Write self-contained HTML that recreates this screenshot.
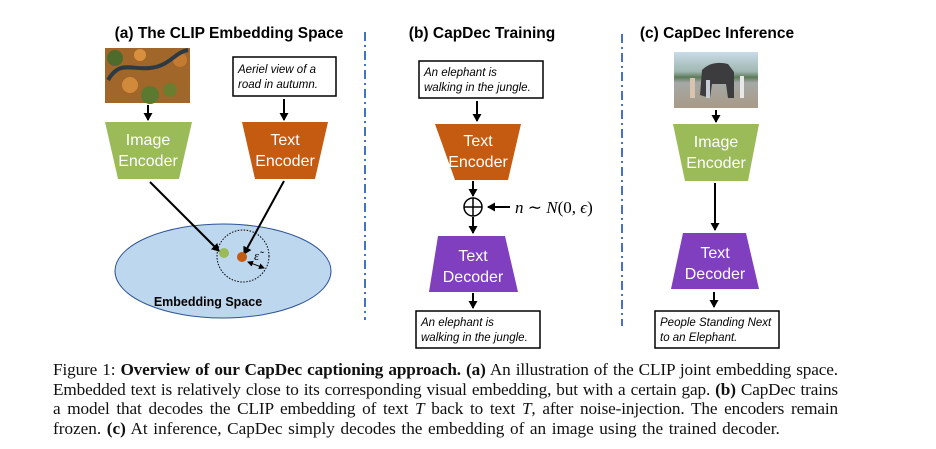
<!DOCTYPE html>
<html><head><meta charset="utf-8"><style>
html,body{margin:0;padding:0;background:#fff;width:936px;height:449px;overflow:hidden;position:relative}
svg{position:absolute;left:0;top:0}
.cap{position:absolute;left:53px;width:785px;font-family:"Liberation Serif",serif;font-size:17.2px;letter-spacing:-0.12px;word-spacing:-1px;line-height:19.5px;color:#111;white-space:nowrap}
.j{text-align:justify;text-align-last:justify}
</style></head><body>
<svg width="936" height="449" viewBox="0 0 936 449" xmlns="http://www.w3.org/2000/svg" font-family="Liberation Sans, sans-serif">
<defs>
<marker id="ah" markerWidth="9" markerHeight="9" refX="7" refY="4.5" orient="auto" markerUnits="userSpaceOnUse"><path d="M0,0 L8,4.5 L0,9 z" fill="#000"/></marker>
<marker id="ah2" markerWidth="6" markerHeight="6" refX="5" refY="3" orient="auto-start-reverse" markerUnits="userSpaceOnUse"><path d="M0,0 L6,3 L0,6 z" fill="#000"/></marker>
<linearGradient id="sky" x1="0" y1="0" x2="0" y2="1"><stop offset="0" stop-color="#c9dbe8"/><stop offset="0.35" stop-color="#9fb7b0"/><stop offset="0.45" stop-color="#5d7a5a"/><stop offset="0.55" stop-color="#a5a9a6"/><stop offset="1" stop-color="#a89a86"/></linearGradient>
</defs>
<g font-weight="bold" font-size="15.5" fill="#000" text-anchor="middle">
<text x="229" y="38">(a) The CLIP Embedding Space</text>
<text x="482" y="38">(b) CapDec Training</text>
<text x="717" y="38">(c) CapDec Inference</text>
</g>
<line x1="365" y1="32" x2="365" y2="320" stroke="#4472C4" stroke-width="2" stroke-dasharray="9,4,2,4"/>
<line x1="622" y1="34" x2="622" y2="326" stroke="#4472C4" stroke-width="2" stroke-dasharray="9,4,2,4"/>

<rect x="105" y="48" width="85" height="55" fill="#8a6a2a"/>
<rect x="105" y="48" width="85" height="55" fill="#b5612a" opacity="0.5"/>
<circle cx="115" cy="58" r="8" fill="#4d6b2a"/><circle cx="150" cy="95" r="9" fill="#5a7a30"/><circle cx="180" cy="60" r="7" fill="#c47a30"/><circle cx="130" cy="85" r="8" fill="#d08a3a"/><circle cx="170" cy="90" r="7" fill="#6b7d2e"/><circle cx="140" cy="55" r="6" fill="#d9903e"/>
<path d="M108,80 C120,60 130,70 150,68 C170,66 175,52 188,50" stroke="#2c3a44" stroke-width="4" fill="none"/>
<line x1="148" y1="105" x2="148" y2="120" stroke="#000" stroke-width="2" marker-end="url(#ah)"/>
<polygon points="105,122 192,122 179,179 118,179" fill="#9BBB59"/>
<text x="148" y="145" fill="#fff" font-size="16" text-anchor="middle">Image</text>
<text x="148" y="166" fill="#fff" font-size="16" text-anchor="middle">Encoder</text>

<rect x="233" y="57" width="103" height="39" fill="#fff" stroke="#000" stroke-width="1.5"/>
<text x="238" y="73" font-size="11.5" font-style="italic">Aeriel view of a</text>
<text x="238" y="88" font-size="11.5" font-style="italic">road in autumn.</text>
<line x1="284" y1="99" x2="284" y2="120" stroke="#000" stroke-width="2" marker-end="url(#ah)"/>
<polygon points="242,122 328,122 315,179 255,179" fill="#C55A11"/>
<text x="285" y="145" fill="#fff" font-size="16" text-anchor="middle">Text</text>
<text x="285" y="166" fill="#fff" font-size="16" text-anchor="middle">Encoder</text>

<ellipse cx="223" cy="271" rx="108" ry="47" fill="#BDD7EE" stroke="#2F5597" stroke-width="1"/>
<circle cx="243" cy="256" r="26" fill="none" stroke="#000" stroke-width="1" stroke-dasharray="1.5,1.5"/>
<line x1="150" y1="182" x2="219" y2="251" stroke="#000" stroke-width="2" marker-end="url(#ah)"/>
<line x1="284" y1="181" x2="244" y2="254" stroke="#000" stroke-width="2" marker-end="url(#ah)"/>
<circle cx="224" cy="253" r="5" fill="#9BBB59"/>
<circle cx="242" cy="257" r="5" fill="#C55A11"/>
<line x1="248" y1="262" x2="264" y2="268" stroke="#000" stroke-width="1" marker-start="url(#ah2)" marker-end="url(#ah2)"/>
<text x="254" y="260" font-size="13" font-style="italic" font-family="Liberation Serif, serif">ε̃</text>
<text x="208" y="306" font-size="12.5" font-weight="bold" text-anchor="middle">Embedding Space</text>

<rect x="419" y="61" width="124" height="37" fill="#fff" stroke="#000" stroke-width="1.5"/>
<text x="424" y="76" font-size="11.5" font-style="italic">An elephant is</text>
<text x="424" y="91" font-size="11.5" font-style="italic">walking in the jungle.</text>
<line x1="477" y1="101" x2="477" y2="121" stroke="#000" stroke-width="2" marker-end="url(#ah)"/>
<polygon points="435,124 521,124 508,180 455,180" fill="#C55A11"/>
<text x="478" y="146" fill="#fff" font-size="16" text-anchor="middle">Text</text>
<text x="478" y="167" fill="#fff" font-size="16" text-anchor="middle">Encoder</text>
<line x1="473" y1="181" x2="473" y2="196" stroke="#000" stroke-width="2" marker-end="url(#ah)"/>
<circle cx="473" cy="207" r="9" fill="none" stroke="#000" stroke-width="1.5"/>
<line x1="464" y1="207" x2="482" y2="207" stroke="#000" stroke-width="1.5"/>
<line x1="473" y1="198" x2="473" y2="216" stroke="#000" stroke-width="1.5"/>
<line x1="510" y1="207" x2="488" y2="207" stroke="#000" stroke-width="2" marker-end="url(#ah)"/>
<text x="515" y="213" font-size="17" font-family="Liberation Serif, serif"><tspan font-style="italic">n</tspan> ∼ <tspan font-style="italic">N</tspan>(0, <tspan font-style="italic">ϵ</tspan>)</text>
<line x1="473" y1="217" x2="473" y2="233" stroke="#000" stroke-width="2" marker-end="url(#ah)"/>
<polygon points="438,236 505,236 518,292 429,292" fill="#7F3FBF"/>
<text x="473" y="261" fill="#fff" font-size="16" text-anchor="middle">Text</text>
<text x="473" y="282" fill="#fff" font-size="16" text-anchor="middle">Decoder</text>
<line x1="473" y1="293" x2="473" y2="308" stroke="#000" stroke-width="2" marker-end="url(#ah)"/>
<rect x="416" y="311" width="124" height="37" fill="#fff" stroke="#000" stroke-width="1.5"/>
<text x="421" y="326" font-size="11.5" font-style="italic">An elephant is</text>
<text x="421" y="341" font-size="11.5" font-style="italic">walking in the jungle.</text>

<rect x="674" y="52" width="84" height="56" fill="url(#sky)"/>
<path d="M700,95 L702,70 Q712,60 728,64 L734,72 L734,98 L728,98 L726,84 L712,84 L710,98 Z" fill="#3c3c3e"/>
<rect x="690" y="78" width="5" height="20" fill="#d9c4b0"/><rect x="740" y="76" width="4" height="22" fill="#e8e8e8"/><rect x="706" y="80" width="4" height="18" fill="#c7cdd6"/>
<line x1="716" y1="110" x2="716" y2="122" stroke="#000" stroke-width="2" marker-end="url(#ah)"/>
<polygon points="673,124 759,124 748,181 685,181" fill="#9BBB59"/>
<text x="716" y="147" fill="#fff" font-size="16" text-anchor="middle">Image</text>
<text x="716" y="168" fill="#fff" font-size="16" text-anchor="middle">Encoder</text>
<line x1="715" y1="183" x2="715" y2="230" stroke="#000" stroke-width="2" marker-end="url(#ah)"/>
<polygon points="683,233 746,233 759,289 671,289" fill="#7F3FBF"/>
<text x="715" y="258" fill="#fff" font-size="16" text-anchor="middle">Text</text>
<text x="715" y="279" fill="#fff" font-size="16" text-anchor="middle">Decoder</text>
<line x1="714" y1="292" x2="714" y2="307" stroke="#000" stroke-width="2" marker-end="url(#ah)"/>
<rect x="655" y="311" width="124" height="37" fill="#fff" stroke="#000" stroke-width="1.5"/>
<text x="660" y="326" font-size="11.5" font-style="italic">People Standing Next</text>
<text x="660" y="341" font-size="11.5" font-style="italic">to an Elephant.</text>
</svg>
<div class="cap j" style="top:360px">Figure 1: <b>Overview of our CapDec captioning approach.</b> <b>(a)</b> An illustration of the CLIP joint embedding space.</div>
<div class="cap j" style="top:379.5px">Embedded text is relatively close to its corresponding visual embedding, but with a certain gap. <b>(b)</b> CapDec trains</div>
<div class="cap j" style="top:399px">a model that decodes the CLIP embedding of text <i>T</i> back to text <i>T</i>, after noise-injection. The encoders remain</div>
<div class="cap" style="top:418.5px;letter-spacing:0;word-spacing:1.3px">frozen. <b>(c)</b> At inference, CapDec simply decodes the embedding of an image using the trained decoder.</div>
</body></html>
